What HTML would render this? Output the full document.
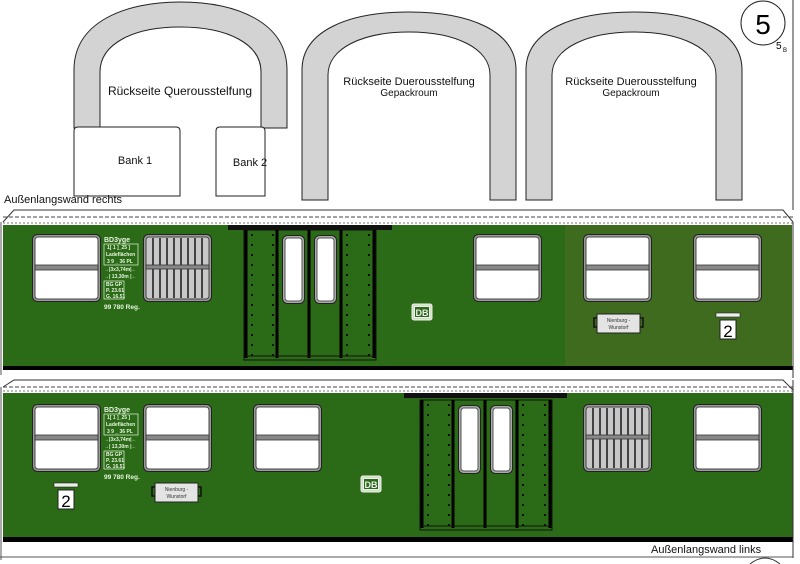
<!DOCTYPE html>
<html><head><meta charset="utf-8"><style>
html,body{margin:0;padding:0;background:#fff;}
svg{display:block;}
text{font-family:"Liberation Sans",sans-serif;}
</style></head><body>
<svg width="800" height="564" viewBox="0 0 800 564" xmlns="http://www.w3.org/2000/svg">
<defs>
  <g id="win">
    <rect x="0.5" y="0.5" width="68" height="67" rx="5" fill="#9a9a9a" stroke="#222"/>
    <rect x="3" y="3" width="63" height="62" rx="3" fill="#fff" stroke="#444"/>
    <rect x="3" y="31" width="63" height="5" fill="#888" stroke="#333" stroke-width="0.8"/>
  </g>
  <g id="grill">
    <rect x="0.5" y="0.5" width="68" height="67" rx="5" fill="#9a9a9a" stroke="#222"/>
    <rect x="3" y="3" width="63" height="62" rx="3" fill="#c8c8c8" stroke="#444"/>
    <g stroke="#222" stroke-width="1.6">
      <line x1="10" y1="4" x2="10" y2="64"/><line x1="17" y1="4" x2="17" y2="64"/>
      <line x1="24" y1="4" x2="24" y2="64"/><line x1="31" y1="4" x2="31" y2="64"/>
      <line x1="38" y1="4" x2="38" y2="64"/><line x1="45" y1="4" x2="45" y2="64"/>
      <line x1="52" y1="4" x2="52" y2="64"/><line x1="59" y1="4" x2="59" y2="64"/>
    </g>
    <rect x="3" y="31" width="63" height="4" fill="#888" stroke="#333" stroke-width="0.8"/>
  </g>
  <g id="dwin">
    <rect x="0.5" y="0.5" width="22" height="68" rx="5" fill="#aaa" stroke="#222"/>
    <rect x="3" y="3" width="17" height="63" rx="3" fill="#fff" stroke="#555"/>
  </g>
  <g id="rivets" fill="#111">
    <rect x="0" y="0" width="2" height="2"/><rect x="0" y="10" width="2" height="2"/><rect x="0" y="20" width="2" height="2"/>
    <rect x="0" y="30" width="2" height="2"/><rect x="0" y="40" width="2" height="2"/><rect x="0" y="50" width="2" height="2"/>
    <rect x="0" y="60" width="2" height="2"/><rect x="0" y="70" width="2" height="2"/><rect x="0" y="80" width="2" height="2"/>
    <rect x="0" y="90" width="2" height="2"/><rect x="0" y="100" width="2" height="2"/><rect x="0" y="110" width="2" height="2"/>
    <rect x="0" y="120" width="2" height="2"/>
  </g>
  <g id="door">
    <rect x="0" y="0" width="132" height="130" fill="none" stroke="#111" stroke-width="1"/>
    <g stroke="#000" stroke-width="3">
      <line x1="2" y1="0" x2="2" y2="128"/><line x1="33" y1="0" x2="33" y2="128"/>
      <line x1="65" y1="0" x2="65" y2="128"/><line x1="97" y1="0" x2="97" y2="128"/>
      <line x1="130" y1="0" x2="130" y2="128"/>
    </g>
    <line x1="0" y1="126" x2="132" y2="126" stroke="#111" stroke-width="1"/>
    <use href="#rivets" x="7" y="4"/><use href="#rivets" x="28" y="4"/>
    <use href="#rivets" x="102" y="4"/><use href="#rivets" x="124" y="4"/>
    <use href="#dwin" x="38" y="5"/><use href="#dwin" x="70" y="5"/>
  </g>
  <g id="info" fill="#e8f5e0" font-size="5" font-family="Liberation Sans, sans-serif" font-weight="bold">
    <text x="0" y="7" font-size="7">BD3yge</text>
    <rect x="0" y="9" width="34" height="21" fill="none" stroke="#e8f5e0" stroke-width="0.7"/>
    <text x="3" y="14">1[ 1 ]_25 ]</text><text x="2" y="21">Ladeflächen</text><text x="3" y="28">3 9 _ 36 PL</text>
    <text x="0" y="36">→|3x3,74m|←</text><text x="0" y="43">→| 13,30m |←</text>
    <rect x="0" y="46" width="20" height="18" fill="none" stroke="#e8f5e0" stroke-width="0.7"/>
    <text x="2" y="51">BG GP</text><text x="2" y="57">P. 23.61</text><text x="2" y="63">G. 16.51</text>
    <text x="0" y="74" font-size="6.5">99 780 Reg.</text>
  </g>
  <g id="sign">
    <rect x="-3" y="4" width="5" height="9" fill="none" stroke="#111" stroke-width="1.5"/>
    <rect x="41" y="4" width="5" height="9" fill="none" stroke="#111" stroke-width="1.5"/>
    <rect x="0" y="0" width="43" height="19" fill="#e4e4e4" stroke="#222"/>
    <text x="21.5" y="8" font-size="5" text-anchor="middle" fill="#333">Nienburg -</text>
    <text x="21.5" y="15" font-size="5" text-anchor="middle" fill="#333">Wunstorf</text>
  </g>
  <g id="two">
    <rect x="0" y="0" width="24" height="4" fill="#eee" stroke="#222" stroke-width="0.6"/>
    <rect x="4" y="7" width="16" height="19" fill="#fff" stroke="#222"/>
    <text x="12" y="24" font-size="17" text-anchor="middle" fill="#000">2</text>
  </g>
  <g id="db">
    <rect x="0" y="0" width="20" height="16" rx="2" fill="#cfe0c4" stroke="#eee"/>
    <rect x="2.5" y="2.5" width="15" height="11" fill="#2b6a17" stroke="#eee"/>
    <text x="10" y="12" font-size="9" text-anchor="middle" fill="#eee" font-weight="bold">DB</text>
  </g>
</defs>

<!-- arches -->
<path d="M74,128 L74,70 C74,22 125,2 180,2 C236,2 287,22 287,70 L287,128 L261,128 L261,72 C261,44 228,27 180,27 C133,27 100,44 100,72 L100,128 Z" fill="#d3d3d3" stroke="#222"/>
<path d="M302,200 L302,70 C302,30 350,12 409,12 C468,12 516,30 516,70 L516,200 L490,200 L490,75 C490,48 455,32 409,32 C363,32 328,48 328,75 L328,200 Z" fill="#d3d3d3" stroke="#222"/>
<path d="M526,200 L526,70 C526,30 574,12 634,12 C694,12 742,30 742,70 L742,200 L716,200 L716,75 C716,48 680,32 634,32 C588,32 552,48 552,75 L552,200 Z" fill="#d3d3d3" stroke="#222"/>
<text x="180" y="95" font-size="12" text-anchor="middle" fill="#111">Rückseite Querousstelfung</text>
<text x="409" y="85" font-size="11" text-anchor="middle" fill="#111">Rückseite Duerousstelfung</text>
<text x="409" y="96" font-size="10" text-anchor="middle" fill="#111">Gepackroum</text>
<text x="631" y="85" font-size="11" text-anchor="middle" fill="#111">Rückseite Duerousstelfung</text>
<text x="631" y="96" font-size="10" text-anchor="middle" fill="#111">Gepackroum</text>
<path d="M74,196 L74,131 Q74,127 78,127 L176,127 Q180,127 180,131 L180,196 Z" fill="#fff" stroke="#222"/>
<path d="M216,196 L216,131 Q216,127 220,127 L261,127 Q265,127 265,131 L265,196 Z" fill="#fff" stroke="#222"/>
<text x="135" y="164" font-size="11" text-anchor="middle" fill="#111">Bank 1</text>
<text x="250" y="166" font-size="11" text-anchor="middle" fill="#111">Bank 2</text>

<circle cx="763" cy="23" r="22" fill="#fff" stroke="#222"/>
<text x="763" y="34" font-size="28" text-anchor="middle" fill="#000">5</text>
<text x="776" y="49" font-size="10" fill="#000">5</text><text x="783" y="52" font-size="6" fill="#000">B</text>
<line x1="793" y1="0" x2="793" y2="210" stroke="#333"/>

<text x="4" y="203" font-size="11" fill="#111">Außenlangswand rechts</text>

<!-- panel 1 -->
<path d="M3,222 L14,210 L783,210 L793,222" fill="none" stroke="#333"/>
<line x1="3" y1="217" x2="793" y2="217" stroke="#444" stroke-dasharray="4,2"/>
<line x1="3" y1="223" x2="793" y2="223" stroke="#777" stroke-dasharray="2,2"/>
<rect x="3" y="225" width="562" height="141" fill="#2b6a17"/>
<rect x="565" y="225" width="227" height="141" fill="#3f6b1e"/>
<rect x="3" y="366" width="790" height="4" fill="#000"/>
<line x1="1" y1="222" x2="1" y2="375" stroke="#555"/>
<line x1="793" y1="222" x2="793" y2="378" stroke="#333"/>
<rect x="228" y="225" width="164" height="5" fill="#111"/>
<use href="#door" x="244" y="230"/>
<use href="#win" x="32" y="234"/>
<use href="#grill" x="143" y="234"/>
<use href="#info" x="104" y="235"/>
<use href="#win" x="473" y="234"/>
<use href="#win" x="583" y="234"/>
<use href="#win" x="693" y="234"/>
<use href="#db" x="412" y="304"/>
<use href="#sign" x="597" y="314"/>
<use href="#two" x="716" y="313"/>

<!-- panel 2 -->
<path d="M3,387 L14,380 L783,380 L793,390" fill="none" stroke="#333"/>
<line x1="3" y1="387" x2="793" y2="387" stroke="#444" stroke-dasharray="4,2"/>
<line x1="3" y1="391" x2="793" y2="391" stroke="#777" stroke-dasharray="2,2"/>
<rect x="3" y="393" width="790" height="144" fill="#2b6a17"/>
<rect x="3" y="537" width="790" height="5" fill="#000"/>
<line x1="1" y1="387" x2="1" y2="560" stroke="#555"/>
<line x1="793" y1="380" x2="793" y2="558" stroke="#333"/>
<rect x="404" y="393" width="163" height="5" fill="#111"/>
<use href="#door" x="420" y="400"/>
<use href="#win" x="32" y="404"/>
<use href="#win" x="143" y="404"/>
<use href="#win" x="253" y="404"/>
<use href="#info" x="104" y="405"/>
<use href="#grill" x="583" y="404"/>
<use href="#win" x="693" y="404"/>
<use href="#db" x="361" y="476"/>
<use href="#sign" x="155" y="483"/>
<use href="#two" x="54" y="483"/>
<text x="651" y="553" font-size="11" fill="#111">Außenlangswand links</text>
<line x1="0" y1="557" x2="793" y2="557" stroke="#555"/>
<path d="M750,564 Q765,552 780,564" fill="none" stroke="#333"/>
</svg>
</body></html>
